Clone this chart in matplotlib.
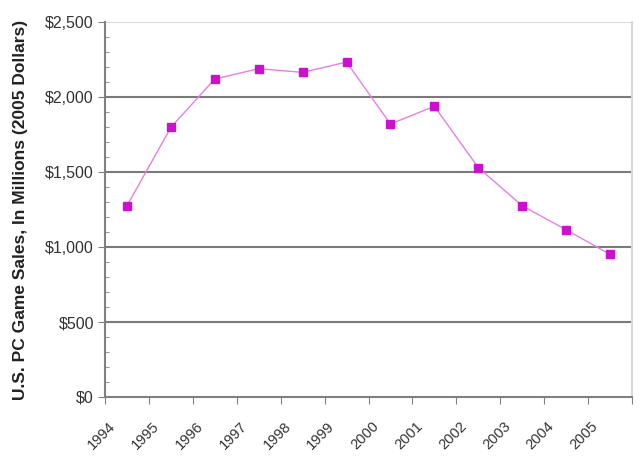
import numpy as np
import matplotlib.pyplot as plt
import matplotlib.transforms as mtransforms
from matplotlib.ticker import FuncFormatter, MultipleLocator

years = ['1994', '1995', '1996', '1997', '1998', '1999',
         '2000', '2001', '2002', '2003', '2004', '2005']
sales = [1275, 1797, 2120, 2189, 2164, 2233,
         1820, 1938, 1529, 1275, 1115, 951]

plt.rcParams['font.family'] = ['Liberation Sans', 'DejaVu Sans']

fig = plt.figure(figsize=(6.4, 4.71), dpi=100)
ax = fig.add_axes([105 / 640, 1 - 397 / 471, 527 / 640, 375 / 471])

x = np.arange(len(years)) + 0.5
ax.plot(x, sales, color='#e480e4', linewidth=1.0, marker='s', markersize=6,
        markerfacecolor='#cc11cc', markeredgecolor='#cc11cc', zorder=3)

ax.set_xlim(0, len(years))
ax.set_ylim(0, 2500)
ax.yaxis.set_major_locator(MultipleLocator(500))
ax.yaxis.set_minor_locator(MultipleLocator(100))
ax.yaxis.set_major_formatter(FuncFormatter(lambda v, p: '${:,.0f}'.format(v)))

for v in [500, 1000, 1500, 2000]:
    ax.axhline(v, color='#7a7a7a', linewidth=1.5, zorder=1)
ax.axhline(2500, color='#d8d8d8', linewidth=1.5, zorder=1)

ax.set_xticks(np.arange(len(years) + 1))
ax.set_xticklabels([])
ax.set_xticks(x, minor=True)
ax.set_xticklabels(years, minor=True, rotation=45, ha='right', rotation_mode='anchor',
                   fontsize=10.5, color='#333333')
ax.tick_params(axis='x', which='minor', length=0, pad=16)
ax.tick_params(axis='x', which='major', length=5, color='#808080', direction='out')
ax.tick_params(axis='y', which='major', length=5, color='#808080', direction='out',
               labelsize=11.5, labelcolor='#333333', pad=3)
ax.tick_params(axis='y', which='minor', length=3, color='#808080', direction='in')

shift = mtransforms.ScaledTranslation(-19 / 100, 0, fig.dpi_scale_trans)
for lab in ax.get_xticklabels(minor=True):
    lab.set_transform(lab.get_transform() + shift)

for s in ['left', 'bottom']:
    ax.spines[s].set_color('#808080')
    ax.spines[s].set_linewidth(1.5)
ax.spines['top'].set_visible(False)
ax.spines['right'].set_color('#d8d8d8')
ax.spines['right'].set_linewidth(1.5)

ax.set_ylabel('U.S. PC Game Sales, In Millions (2005 Dollars)', fontsize=12.5,
              fontweight='bold', color='#222222', labelpad=12)

fig.savefig('out.png', dpi=100)
